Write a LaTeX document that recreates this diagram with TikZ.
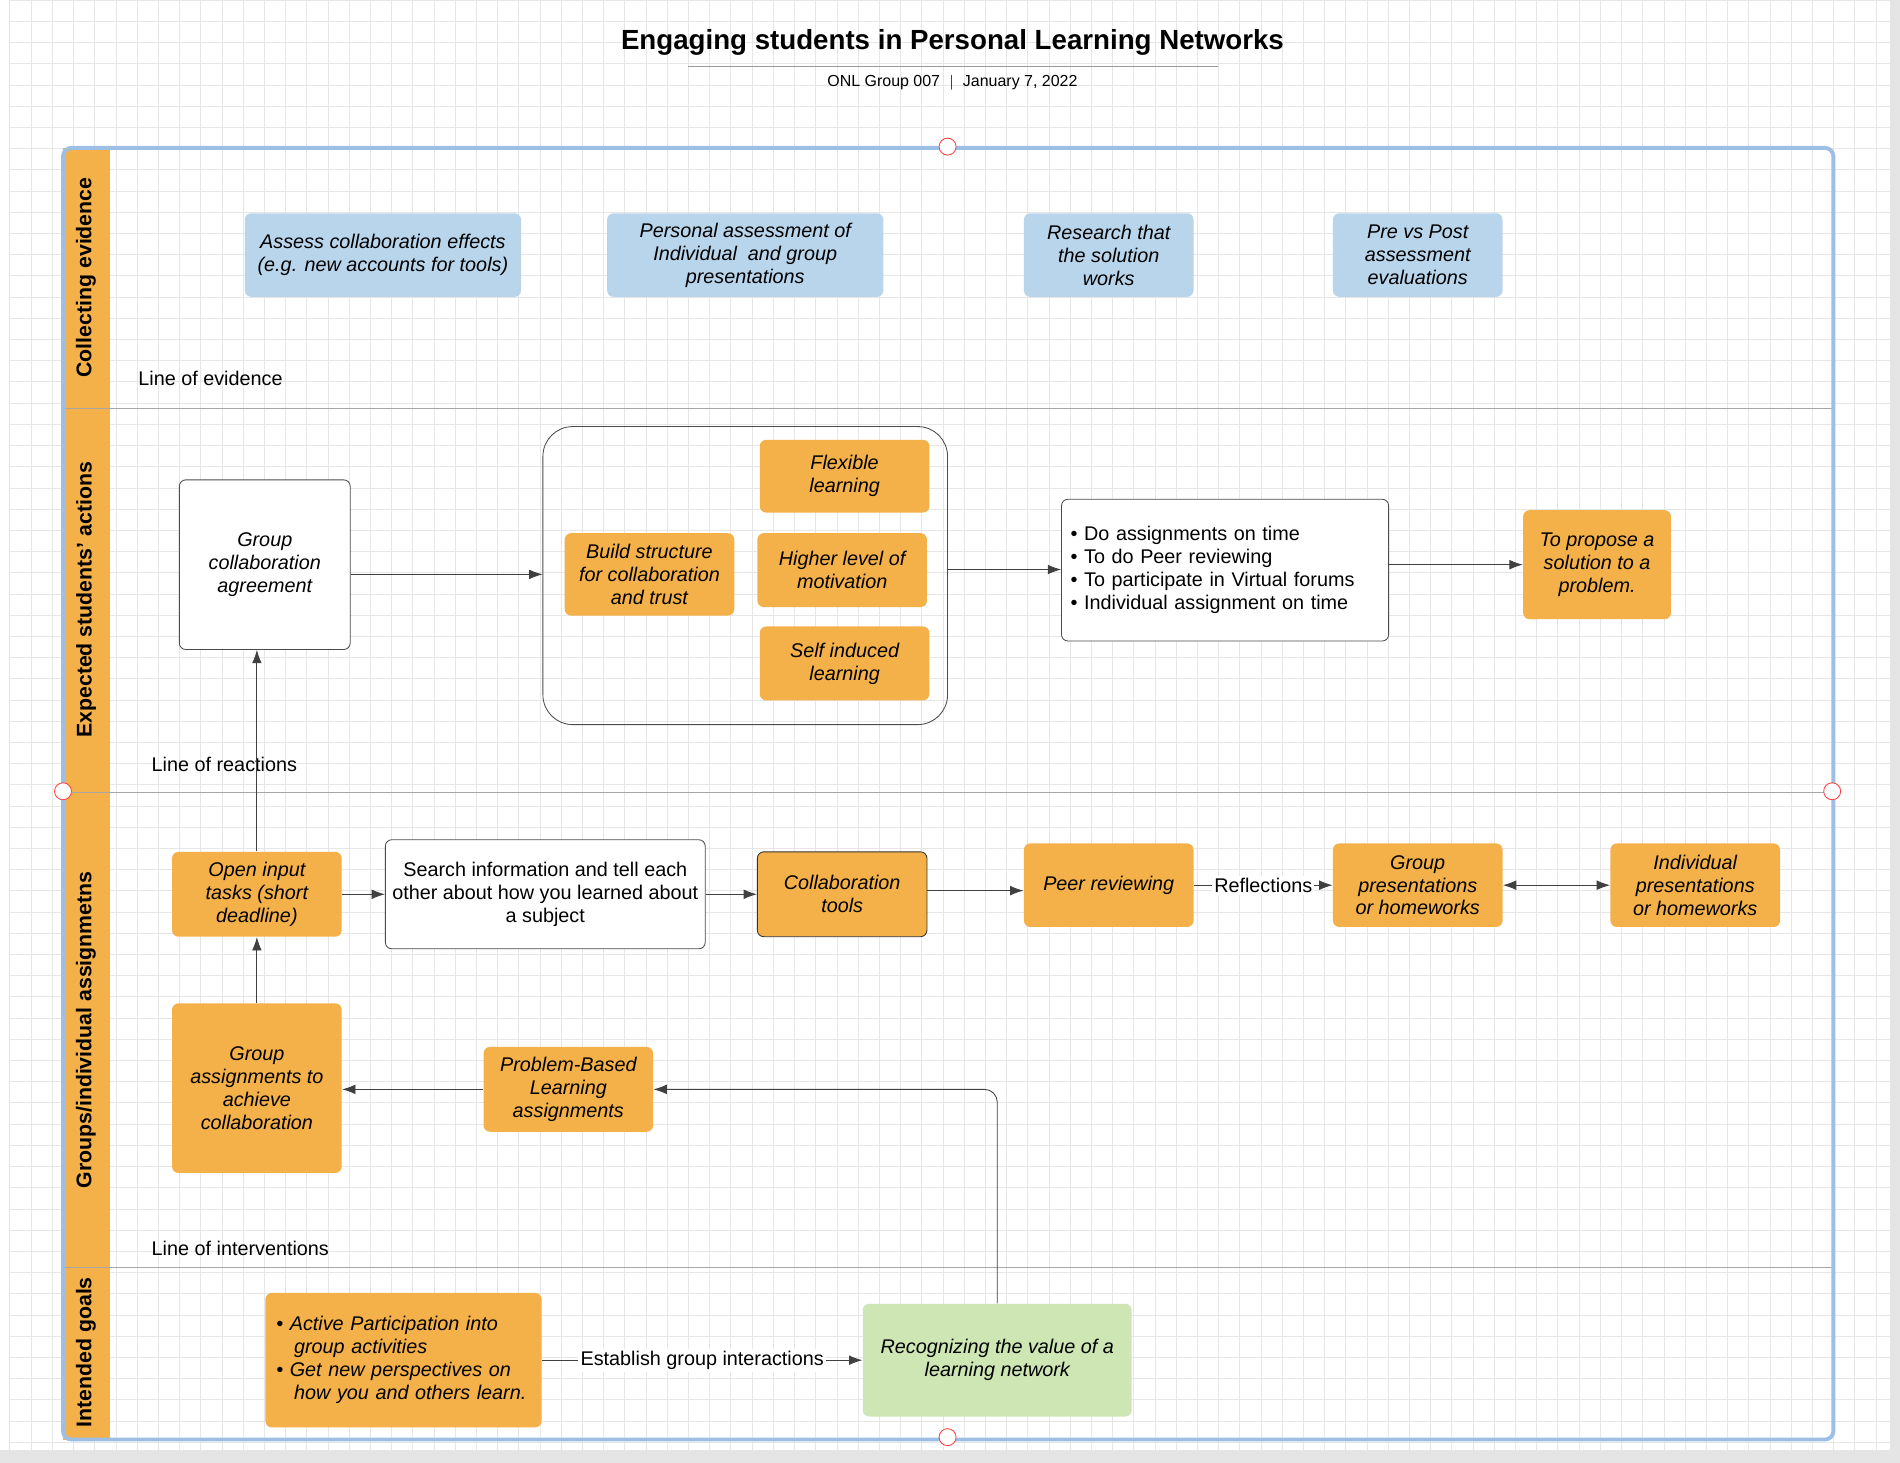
\documentclass[tikz,border=0pt]{standalone}
\usepackage{fontspec}
\setmainfont{Liberation Sans}
\usetikzlibrary{arrows.meta,positioning,calc}
\definecolor{laneorange}{HTML}{F4B14A}
\definecolor{evblue}{HTML}{B9D5EC}
\definecolor{goalgreen}{HTML}{CDE6B4}
\definecolor{framblue}{HTML}{9DBFE6}
\definecolor{gridgray}{HTML}{E6E6E6}
\tikzset{
  box/.style={draw=black!70, rounded corners=3pt, align=center, font=\fontsize{9.3}{10.8}\selectfont, inner sep=2pt},
  obox/.style={box, draw=none, fill=laneorange, font=\fontsize{9.3}{10.8}\selectfont\itshape},
  bbox/.style={obox, fill=evblue},
  wbox/.style={box, fill=white},
  arr/.style={-{Latex[length=2.2mm,width=1.6mm]}, draw=black!75, thin},
  lane/.style={draw=black!35, thin},
  lanelbl/.style={rotate=90, font=\fontsize{10}{12}\selectfont\bfseries},
  linelbl/.style={anchor=west, font=\fontsize{9.3}{11}\selectfont},
  handle/.style={circle, draw=red!75, fill=white, minimum size=0.28cm, inner sep=0pt}
}
\begin{document}
\begin{tikzpicture}[x=0.02cm, y=-0.02cm]
\useasboundingbox (0,0) rectangle (1568,1207);
\fill[white] (0,0) rectangle (1568,1207);
% grid
\foreach \x in {8,25.5,...,1560} \draw[gridgray, very thin] (\x,0) -- (\x,1197);
\foreach \y in {0,17.5,...,1197} \draw[gridgray, very thin] (8,\y) -- (1560,\y);
\fill[black!10] (0,1197) rectangle (1568,1207);
\fill[black!10] (1560,0) rectangle (1568,1207);
% title
\node[font=\fontsize{13}{15}\selectfont\bfseries] (title) at (786,35) {Engaging students in Personal Learning Networks};
\draw[black!40] (568,55) -- (1005,55);
\node[font=\fontsize{7.5}{9}\selectfont] (sub) at (786,68) {ONL Group 007 \ $|$ \ January 7, 2022};
% frame and lanes
\fill[laneorange] (52,122) rectangle (91,1188);
\draw[lane] (52,337) -- (1513,337);
\draw[lane] (52,654) -- (1513,654);
\draw[lane] (52,1046) -- (1513,1046);
\draw[framblue, line width=1.8pt, rounded corners=4pt] (52,122) rectangle (1513,1188);
\node[lanelbl] (l1) at (71,229) {Collecting evidence};
\node[lanelbl] (l2) at (71,495) {Expected students' actions};
\node[lanelbl] (l3) at (71,850) {Groups/individual assignmetns};
\node[lanelbl] (l4) at (71,1116) {Intended goals};
\node[linelbl] (le) at (108,312) {Line of evidence};
\node[linelbl] (lr) at (119,631) {Line of reactions};
\node[linelbl] (li) at (119,1030) {Line of interventions};
% collecting evidence
\node[bbox, minimum width=4.56cm, minimum height=1.38cm] (ev1) at (316,210.5) {Assess collaboration effects\\(e.g. new accounts for tools)};
\node[bbox, minimum width=4.56cm, minimum height=1.38cm] (ev2) at (615,210.5) {Personal assessment of\\Individual \ and group\\presentations};
\node[bbox, minimum width=2.8cm, minimum height=1.38cm] (ev3) at (915,210.5) {Research that\\the solution\\works};
\node[bbox, minimum width=2.8cm, minimum height=1.38cm] (ev4) at (1170,210.5) {Pre vs Post\\assessment\\evaluations};
% expected actions
\node[wbox, minimum width=2.82cm, minimum height=2.8cm, font=\fontsize{9.3}{10.8}\selectfont\itshape] (agree) at (218.5,466) {Group\\collaboration\\agreement};
\node[wbox, fill=none, rounded corners=14pt, minimum width=6.68cm, minimum height=4.92cm] (cont) at (615,475) {};
\node[obox, minimum width=2.8cm, minimum height=1.2cm] (flex) at (697,393) {Flexible\\learning};
\node[obox, minimum width=2.8cm, minimum height=1.36cm] (build) at (536,474) {Build structure\\for collaboration\\and trust};
\node[obox, minimum width=2.8cm, minimum height=1.22cm] (motiv) at (695,470.5) {Higher level of\\motivation};
\node[obox, minimum width=2.8cm, minimum height=1.22cm] (self) at (697,547.5) {Self induced\\learning};
\node[wbox, align=left, text width=5.1cm, minimum width=5.4cm, minimum height=2.34cm] (todo) at (1011,470.5) {\textbullet\ Do assignments on time\\\textbullet\ To do Peer reviewing\\\textbullet\ To participate in Virtual forums\\\textbullet\ Individual assignment on time};
\node[obox, minimum width=2.44cm, minimum height=1.8cm] (propose) at (1318,466) {To propose a\\solution to a\\problem.};
\draw[arr] (agree.east |- 0,474) -- (cont.west |- 0,474);
\draw[arr] (cont.east |- 0,470) -- (todo.west |- 0,470);
\draw[arr] (todo.east |- 0,466) -- (propose.west |- 0,466);
% assignments
\node[obox, minimum width=2.8cm, minimum height=1.4cm] (open) at (212,738) {Open input\\tasks (short\\deadline)};
\node[wbox, minimum width=5.28cm, minimum height=1.8cm] (search) at (450,738) {Search information and tell each\\other about how you learned about\\a subject};
\node[obox, draw=black!80, minimum width=2.8cm, minimum height=1.4cm] (collab) at (695,738) {Collaboration\\tools};
\node[obox, minimum width=2.8cm, minimum height=1.38cm] (peer) at (915,730.5) {Peer reviewing};
\node[obox, minimum width=2.8cm, minimum height=1.38cm] (grp) at (1170,730.5) {Group\\presentations\\or homeworks};
\node[obox, minimum width=2.8cm, minimum height=1.38cm] (indiv) at (1399,730.5) {Individual\\presentations\\or homeworks};
\node[obox, minimum width=2.8cm, minimum height=2.8cm] (gassign) at (212,898) {Group\\assignments to\\achieve\\collaboration};
\node[obox, minimum width=2.8cm, minimum height=1.4cm] (pbl) at (469,899) {Problem-Based\\Learning\\assignments};
\draw[arr] (open.north) -- (open.north |- agree.south);
\draw[arr] (gassign.north) -- (open.south);
\draw[arr] (open.east) -- (search.west |- open.east);
\draw[arr] (search.east |- collab.west) -- (collab.west);
\draw[arr] (collab.east |- 0,735) -- (peer.west |- 0,735);
\draw[arr] (peer.east) -- node[fill=white, inner sep=1pt, font=\fontsize{9.3}{11}\selectfont] {Reflections} (grp.west);
\draw[{Latex[length=2.2mm,width=1.6mm]}-{Latex[length=2.2mm,width=1.6mm]}, draw=black!75, thin] (grp.east) -- (indiv.west);
\draw[arr] (pbl.west) -- (gassign.east |- pbl.west);
% goals
\node[obox, align=left, text width=4.2cm, minimum width=4.56cm, minimum height=2.22cm] (active) at (333,1122.5) {\textbullet\ Active Participation into\\\hspace*{0.9em}group activities\\\textbullet\ Get new perspectives on\\\hspace*{0.9em}how you and others learn.};
\node[obox, fill=goalgreen, minimum width=4.44cm, minimum height=1.86cm] (recog) at (823,1122.5) {Recognizing the value of a\\learning network};
\draw[arr] (active.east |- recog.west) -- node[fill=white, inner sep=1pt, font=\fontsize{9.3}{11}\selectfont] {Establish group interactions} (recog.west);
\draw[arr, rounded corners=6pt] (recog.north) |- (pbl.east);
% handles
\node[handle] (h1) at (782,121) {};
\node[handle] (h2) at (52,653) {};
\node[handle] (h3) at (1512,653) {};
\node[handle] (h4) at (782,1186) {};
\end{tikzpicture}
\end{document}
